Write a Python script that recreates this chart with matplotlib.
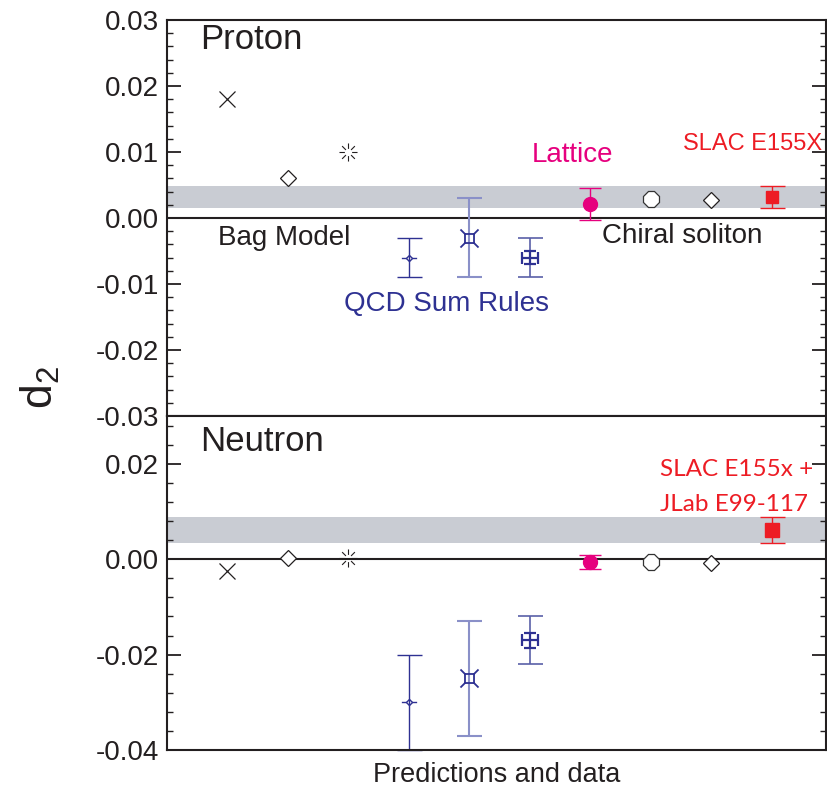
import numpy as np
import matplotlib
matplotlib.use("Agg")
import matplotlib.pyplot as plt
from matplotlib.path import Path

plt.rcParams['font.family'] = ['Liberation Sans', 'DejaVu Sans']
plt.rcParams['mathtext.default'] = 'regular'

# ---- data (x position = model index) ----
bag_x = [1, 2, 3]
qcd_x = [4, 5, 6]
lattice_x = [7]
chiral_x = [8, 9]
slac_x = [10]

# proton
p_bag = [0.018, 0.006, 0.010]
p_qcd = [-0.006, -0.003, -0.006]
p_qcd_err = [0.003, 0.006, 0.003]
p_qcd_inner = 0.001
p_lattice = [0.0021]
p_lattice_err = [0.0024]
p_chiral = [0.0029, 0.0027]
p_slac = [0.0032]
p_slac_err = [0.0017]
p_band = (0.0015, 0.0049)

# neutron
n_bag = [-0.0025, 0.0002, 0.0002]
n_qcd = [-0.030, -0.025, -0.017]
n_qcd_err = [0.010, 0.012, 0.005]
n_qcd_inner = 0.0016
n_lattice = [-0.0006]
n_lattice_err = [0.0015]
n_chiral = [-0.0006, -0.0009]
n_slac = [0.0061]
n_slac_err = [0.0028]
n_band = (0.0034, 0.0088)

BLUE = '#2e3192'
LBLUE = '#8a90c8'
MAG = '#e6007e'
RED = '#ed1c24'
BAND = '#c9ccd3'
INK = '#231f20'

# custom markers
def burst():
    verts, codes = [], []
    for a in np.arange(0, 360, 45):
        c, s = np.cos(np.radians(a)), np.sin(np.radians(a))
        verts += [(0.4 * c, 0.4 * s), (c, s)]
        codes += [Path.MOVETO, Path.LINETO]
    return Path(verts, codes)

def small_diamond():
    v = [(0, 0.4), (0.4, 0), (0, -0.4), (-0.4, 0), (0, 0.4),
         (-1, 0), (-0.4, 0), (0.4, 0), (1, 0)]
    c = [Path.MOVETO, Path.LINETO, Path.LINETO, Path.LINETO, Path.LINETO,
         Path.MOVETO, Path.LINETO, Path.MOVETO, Path.LINETO]
    return Path(v, c)

def spiky_square():
    h = 0.5
    v = [(-h, -h), (h, -h), (h, h), (-h, h), (-h, -h),
         (h, h), (1, 1), (-h, h), (-1, 1), (-h, -h), (-1, -1), (h, -h), (1, -1)]
    c = [Path.MOVETO, Path.LINETO, Path.LINETO, Path.LINETO, Path.LINETO,
         Path.MOVETO, Path.LINETO, Path.MOVETO, Path.LINETO,
         Path.MOVETO, Path.LINETO, Path.MOVETO, Path.LINETO]
    return Path(v, c)

fig = plt.figure(figsize=(8.28, 7.93), dpi=100)
axp = fig.add_axes([0.2017, 0.4754, 0.796, 0.4994])
axn = fig.add_axes([0.2017, 0.0542, 0.796, 0.4212])


def draw(ax, bag, qcd, qerr, qinner, lat, laterr, chi, slac, slacerr, band, slac_ms):
    ax.axhspan(band[0], band[1], color=BAND, lw=0, zorder=0)
    ax.axhline(0, color=INK, lw=1.5, zorder=1)
    ax.plot(bag_x[0], bag[0], marker='x', ms=12, mew=0.9, color=INK, ls='none')
    ax.plot(bag_x[1], bag[1], marker='D', ms=8, mew=0.9, mfc='white', mec=INK, ls='none')
    ax.plot(bag_x[2], bag[2], marker=burst(), ms=13, mew=0.8, color=INK, ls='none')
    # QCD sum rules
    ax.errorbar(qcd_x[0], qcd[0], yerr=qerr[0], color=BLUE, lw=1, capsize=9, capthick=1,
                marker=small_diamond(), ms=11, mew=1, mfc='none', ls='none', clip_on=False)
    ax.errorbar(qcd_x[1], qcd[1], yerr=qerr[1], color=LBLUE, lw=1.5, capsize=9, capthick=1.5,
                ls='none', marker='none')
    ax.plot(qcd_x[1], qcd[1], marker=spiky_square(), ms=13, mew=1.3, color=BLUE, mfc='none', ls='none')
    ax.errorbar(qcd_x[2], qcd[2], yerr=qerr[2], color='#5a60a8', lw=1.2, capsize=9, capthick=1.2,
                ls='none')
    ax.errorbar(qcd_x[2], qcd[2], yerr=qinner, xerr=0.13, color=BLUE, lw=1.6, capsize=4,
                capthick=1.6, ls='none')
    # lattice
    ax.errorbar(lattice_x, lat, yerr=laterr, color=MAG, marker='o', ms=10, lw=1,
                capsize=8, capthick=1, ls='none')
    # chiral soliton
    ax.plot(chiral_x[0], chi[0], marker='8', ms=12.5, mew=0.9, mfc='white', mec='#333333', ls='none')
    ax.plot(chiral_x[1], chi[1], marker='D', ms=8, mew=0.9, mfc='white', mec=INK, ls='none')
    # SLAC
    ax.errorbar(slac_x, slac, yerr=slacerr, color=RED, marker='s', ms=slac_ms, lw=1,
                capsize=9, capthick=1, ls='none')

    ax.set_xlim(0, 10.9)
    ax.set_xticks([])
    for s in ax.spines.values():
        s.set_linewidth(1.5)
        s.set_color(INK)
    ax.tick_params(axis='y', which='both', direction='in', left=True, right=True,
                   labelsize=20, pad=6, colors=INK)
    ax.tick_params(axis='y', which='major', length=10, width=1.3)
    ax.tick_params(axis='y', which='minor', length=4, width=1)


draw(axp, p_bag, p_qcd, p_qcd_err, p_qcd_inner, p_lattice, p_lattice_err,
     p_chiral, p_slac, p_slac_err, p_band, 8)
draw(axn, n_bag, n_qcd, n_qcd_err, n_qcd_inner, n_lattice, n_lattice_err,
     n_chiral, n_slac, n_slac_err, n_band, 10)

axp.set_ylim(-0.03, 0.03)
axp.set_yticks([-0.03, -0.02, -0.01, 0.0, 0.01, 0.02, 0.03])
axp.set_yticks(np.arange(-0.03, 0.0301, 0.002), minor=True)
axp.set_yticklabels(['-0.03', '-0.02', '-0.01', '0.00', '0.01', '0.02', '0.03'])

axn.set_ylim(-0.04, 0.03)
axn.set_yticks([-0.04, -0.02, 0.0, 0.02])
axn.set_yticks(np.arange(-0.04, 0.0301, 0.004), minor=True)
axn.set_yticklabels(['-0.04', '-0.02', '0.00', '0.02'])

# annotations
axp.text(0.55, 0.027, 'Proton', fontsize=25, color=INK, va='center', ha='left')
axn.text(0.55, 0.0246, 'Neutron', fontsize=25, color=INK, va='center', ha='left')
axp.text(0.85, -0.003, 'Bag Model', fontsize=20, color=INK, va='center')
axp.text(7.2, -0.0027, 'Chiral soliton', fontsize=20, color=INK, va='center')
axp.text(2.92, -0.013, 'QCD Sum Rules', fontsize=20, color=BLUE, va='center')
axp.text(6.03, 0.0095, 'Lattice', fontsize=20, color=MAG, va='center')
axp.text(8.54, 0.0112, 'SLAC E155X', fontsize=17, color=RED, va='center')
axn.text(10.69, 0.0187, 'SLAC E155x +', fontsize=17.5, color=RED, va='center', ha='right',
         family=['Lato', 'DejaVu Sans'])
axn.text(10.6, 0.0115, 'JLab E99-117', fontsize=17.5, color=RED, va='center', ha='right',
         family=['Lato', 'DejaVu Sans'])

fig.text(497 / 828, 1 - 775 / 793, 'Predictions and data', fontsize=19.5, color=INK,
         ha='center', va='center')
fig.text(40 / 828, 1 - 388 / 793, 'd$_2$', fontsize=32, rotation=90, ha='center', va='center',
         color=INK)

fig.savefig('out.png', dpi=100)
